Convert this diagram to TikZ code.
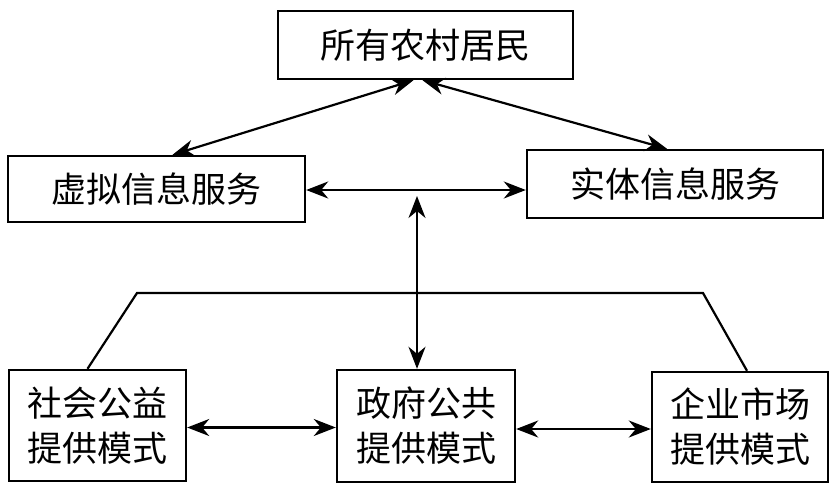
\documentclass[tikz,border=0pt]{standalone}
\usepackage{fontspec}
\newfontfamily\cjk{Noto Sans CJK SC}
\usetikzlibrary{arrows.meta}
\begin{document}
\begin{tikzpicture}[x=1pt,y=-1pt,
  box/.style={draw, line width=2.4pt, inner sep=0pt, align=center,
    font=\cjk\fontsize{35}{45}\selectfont},
  link/.style={line width=2.2pt},
  biarrow/.style={line width=2.2pt, arrows={Stealth[length=22pt,width=17pt,inset=7pt]-Stealth[length=22pt,width=17pt,inset=7pt]}}]
\useasboundingbox (0,0) rectangle (835,490);
\node[box, minimum width=295pt, minimum height=68pt] (top) at (425.5,45) {所有农村居民};
\node[box, minimum width=297pt, minimum height=66pt] (left) at (156.5,189) {虚拟信息服务};
\node[box, minimum width=296pt, minimum height=68pt] (right) at (675,184) {实体信息服务};
\node[box, minimum width=177pt, minimum height=111pt] (bl) at (97.5,425.5) {社会公益\\提供模式};
\node[box, minimum width=178pt, minimum height=112pt] (mid) at (426,426) {政府公共\\提供模式};
\node[box, minimum width=176pt, minimum height=110pt] (br) at (740,427) {企业市场\\提供模式};
\coordinate (vtop) at (417,196);
\coordinate (tl) at (137,293);
\coordinate (tr) at (703,293);
\draw[biarrow] ([xshift=-12pt]top.south) -- ([xshift=16pt]left.north);
\draw[biarrow] ([xshift=-3pt]top.south) -- ([xshift=-8pt]right.north);
\draw[biarrow] ([yshift=-1pt]left.east) -- ([yshift=-1pt]left.east -| right.west);
\draw[biarrow] (vtop) -- (vtop |- mid.north);
\draw[biarrow] ([yshift=-2pt]bl.east) -- ([yshift=-2pt]bl.east -| mid.west);
\draw[biarrow] ([yshift=-3pt]mid.east) -- ([yshift=-3pt]mid.east -| br.west);
\draw[link, line join=miter] ([xshift=-10pt]bl.north) -- (tl) -- (tr) -- ([xshift=7pt]br.north);
\end{tikzpicture}
\end{document}
